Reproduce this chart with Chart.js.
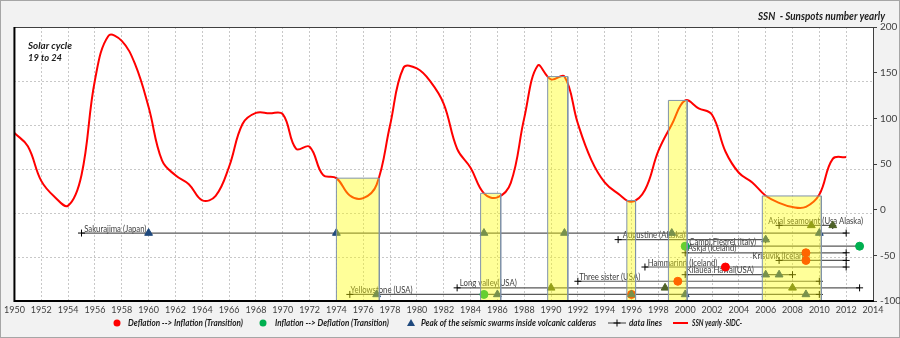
<!DOCTYPE html>
<html lang="en">
<head>
<meta charset="UTF-8">
<title>SSN - Sunspots number yearly</title>
<script src="https://cdn.jsdelivr.net/npm/chart.js"></script>
<style>
    html, body { margin: 0; padding: 0; background: #f2f2f2; }
    #wrap { width: 900px; height: 338px; }
</style>
</head>
<body>
<div id="wrap"><canvas id="ssnChart" width="900" height="338"></canvas></div>
<script>
// yearly sunspot number (SIDC)
const years = [1950, 1951, 1952, 1953, 1954, 1955, 1956, 1957, 1958, 1959,
    1960, 1961, 1962, 1963, 1964, 1965, 1966, 1967, 1968, 1969,
    1970, 1971, 1972, 1973, 1974, 1975, 1976, 1977, 1978, 1979,
    1980, 1981, 1982, 1983, 1984, 1985, 1986, 1987, 1988, 1989,
    1990, 1991, 1992, 1993, 1994, 1995, 1996, 1997, 1998, 1999,
    2000, 2001, 2002, 2003, 2004, 2005, 2006, 2007, 2008, 2009,
    2010, 2011, 2012];
const ssnYearly = [83.9, 69.4, 31.5, 13.9, 4.4, 38.0, 141.7, 190.2, 184.8, 159.0,
    112.3, 53.9, 37.6, 27.9, 10.2, 15.1, 47.0, 93.8, 105.9, 105.5,
    104.5, 66.6, 68.9, 38.0, 34.5, 15.5, 12.6, 27.5, 92.5, 155.4,
    154.6, 140.4, 115.9, 66.6, 45.9, 17.9, 13.4, 29.4, 100.2, 157.6,
    142.6, 145.7, 94.3, 54.6, 29.9, 17.5, 8.6, 21.5, 64.3, 93.3,
    119.6, 111.0, 104.0, 63.7, 40.4, 29.8, 15.2, 7.5, 2.9, 3.1,
    16.5, 55.7, 57.6];

// solar minimum boxes (years, SSN height)
const boxStart = [1974, 1984.75, 1989.75, 1995.65, 1998.75, 2005.75];
const boxEnd = [1977.2, 1986.25, 1991.25, 1996.3, 2000.15, 2010.15];
const boxTop = [34.5, 17.9, 145.7, 10, 119.6, 15];

// volcano data lines (left, hidden axis)
const volcanoNames = ['Axial seamount (Usa Alaska)', 'Sakurajima (Japan)', 'Augustine (Alaska)',
    'Campi Flegrei (Italy)', 'Askja (Iceland)', 'Krisuvik (Iceland)', 'Hammarinn (Iceland)',
    'Kilauea Hawai(USA)', 'Three sister (USA)', 'Long valley(USA)', 'Yellowstone (USA)'];
const volcanoLevel = [-65.5, -69, -72, -75, -78, -81.5, -84.5, -88, -91, -94, -97];
const volcanoFrom = [2007, 1955, 1995, 2000, 2000, 2007, 1997, 2000, 1992, 1983, 1975];
const volcanoTo = [2011, 2012, 2006, 2013, 2012, 2012, 2012, 2008, 2010, 2013, 2010];
const labelYear = [2006.2, 1955.2, 1995.35, 2000.3, 2000.2, 2005.0, 1997.2, 2000.1, 1992.1, 1983.2, 1975.05];

// deflation --> inflation
const defInfYear = [1996, 1999.45, 2003, 2009, 2009];
const defInfLevel = [-97, -91, -84.5, -78, -81.5];
// inflation --> deflation
const infDefYear = [1985, 2000, 2013];
const infDefLevel = [-97, -75, -75];
// peaks of seismic swarms
const swarmYear = [1960, 1974, 1985, 1991, 1999, 2010, 2006, 2006, 2007, 1977, 1986, 1996, 2000, 2009];
const swarmLevel = [-69, -69, -69, -69, -69, -69, -72, -88, -88, -97, -97, -97, -97, -97];
const swarm2Year = [1990, 1998.5, 2008, 2009.4, 2011];
const swarm2Level = [-94, -94, -94, -65.5, -65.5];

const pts = (xs, ys) => xs.map((x, i) => ({ x: x, y: ys[i] }));

const datasets = [];

boxStart.forEach((x0, i) => {
    datasets.push({
        label: 'box' + i,
        data: [{ x: x0, y: -100 }, { x: x0, y: boxTop[i] }, { x: boxEnd[i], y: boxTop[i] }, { x: boxEnd[i], y: -100 }],
        yAxisID: 'y2',
        borderColor: '#8093a8',
        borderWidth: 1,
        backgroundColor: 'rgba(255, 255, 0, 0.4)',
        fill: 'start',
        pointRadius: 0,
        tension: 0,
        order: 0
    });
});

datasets.push({
    label: 'swarm',
    data: pts(swarmYear, swarmLevel),
    yAxisID: 'y1',
    showLine: false,
    pointStyle: 'triangle',
    pointRadius: 4.5,
    pointBackgroundColor: '#1f497d',
    pointBorderColor: '#1f497d',
    order: 1
});
datasets.push({
    label: 'swarm2',
    data: pts(swarm2Year, swarm2Level),
    yAxisID: 'y1',
    showLine: false,
    pointStyle: 'triangle',
    pointRadius: 4.5,
    pointBackgroundColor: '#4f6228',
    pointBorderColor: '#4f6228',
    order: 1
});
datasets.push({
    label: 'defInf',
    data: pts(defInfYear, defInfLevel),
    yAxisID: 'y1',
    showLine: false,
    pointRadius: 4,
    pointBackgroundColor: '#ff0000',
    pointBorderColor: '#ff0000',
    order: 2
});
datasets.push({
    label: 'infDef',
    data: pts(infDefYear, infDefLevel),
    yAxisID: 'y1',
    showLine: false,
    pointRadius: 4,
    pointBackgroundColor: '#00b050',
    pointBorderColor: '#00b050',
    order: 2
});

volcanoNames.forEach((name, i) => {
    datasets.push({
        label: name,
        data: [{ x: volcanoFrom[i], y: volcanoLevel[i] }, { x: volcanoTo[i], y: volcanoLevel[i] }],
        yAxisID: 'y1',
        borderColor: '#595959',
        borderWidth: 1.2,
        pointStyle: 'cross',
        pointRadius: 3.5,
        pointBorderColor: '#000',
        pointBorderWidth: 1,
        tension: 0,
        order: 3
    });
});

datasets.push({
    label: 'SSN yearly -SIDC-',
    data: pts(years, ssnYearly),
    yAxisID: 'y2',
    borderColor: '#ff0000',
    borderWidth: 2,
    pointRadius: 0,
    tension: 0.4,
    order: 4
});

const FONT = 'Lato, "Liberation Sans", Arial, sans-serif';

// draw text squeezed a bit, like the narrow original font
function narrowText(ctx, text, x, y, squeeze) {
    const w = ctx.measureText(text).width;
    ctx.fillText(text, x, y, w * squeeze);
}

const decor = {
    id: 'decor',
    beforeDraw(chart) {
        const { ctx, chartArea: a } = chart;
        ctx.save();
        ctx.fillStyle = '#f2f2f2';
        ctx.fillRect(0, 0, chart.width, chart.height);
        ctx.strokeStyle = '#a6a6a6';
        ctx.lineWidth = 1;
        ctx.strokeRect(0.5, 0.5, chart.width - 1, chart.height - 1);
        ctx.fillStyle = '#ffffff';
        ctx.fillRect(a.left, a.top, a.right - a.left, a.bottom - a.top);
        ctx.restore();
    },
    beforeDatasetsDraw(chart) {
        const { ctx } = chart;
        const x = chart.scales.x, y = chart.scales.y1;
        ctx.save();
        ctx.font = '9px ' + FONT;
        ctx.fillStyle = '#404040';
        ctx.textBaseline = 'alphabetic';
        volcanoNames.forEach((name, i) => {
            narrowText(ctx, name, x.getPixelForValue(labelYear[i]), y.getPixelForValue(volcanoLevel[i]) - 1.5, 0.86);
        });
        ctx.restore();
    },
    afterDraw(chart) {
        const { ctx, chartArea: a } = chart;
        ctx.save();
        // plot frame
        ctx.strokeStyle = '#404040';
        ctx.lineWidth = 1;
        ctx.beginPath();
        ctx.moveTo(a.left, a.top + 0.5);
        ctx.lineTo(a.right + 0.5, a.top + 0.5);
        ctx.lineTo(a.right + 0.5, a.bottom);
        ctx.stroke();
        ctx.strokeStyle = '#000';
        ctx.lineWidth = 2;
        ctx.beginPath();
        ctx.moveTo(a.left, a.top);
        ctx.lineTo(a.left, a.bottom);
        ctx.lineTo(a.right + 1, a.bottom);
        ctx.stroke();

        // titles
        ctx.fillStyle = '#1a1a1a';
        ctx.textBaseline = 'middle';
        ctx.font = 'italic bold 11px ' + FONT;
        ctx.textAlign = 'right';
        ctx.fillText('SSN  - Sunspots number yearly', 885, 16, 127);
        ctx.textAlign = 'left';
        ctx.font = 'italic bold 10px ' + FONT;
        ctx.fillText('Solar cycle', 28, 46, 44);
        ctx.fillText('19 to 24', 28, 58, 34);

        // legend
        const ly = 323;
        ctx.font = 'italic bold 9.5px ' + FONT;
        ctx.fillStyle = '#ff0000';
        ctx.beginPath(); ctx.arc(117, ly, 3.5, 0, Math.PI * 2); ctx.fill();
        ctx.fillStyle = '#00b050';
        ctx.beginPath(); ctx.arc(263, ly, 3.5, 0, Math.PI * 2); ctx.fill();
        ctx.fillStyle = '#1f497d';
        ctx.beginPath(); ctx.moveTo(411, ly - 4); ctx.lineTo(415, ly + 3); ctx.lineTo(407, ly + 3); ctx.closePath(); ctx.fill();
        ctx.strokeStyle = '#595959'; ctx.lineWidth = 1.2;
        ctx.beginPath(); ctx.moveTo(608, ly); ctx.lineTo(626, ly); ctx.stroke();
        ctx.strokeStyle = '#000'; ctx.lineWidth = 1;
        ctx.beginPath(); ctx.moveTo(617, ly - 3.5); ctx.lineTo(617, ly + 3.5); ctx.moveTo(613.5, ly); ctx.lineTo(620.5, ly); ctx.stroke();
        ctx.strokeStyle = '#ff0000'; ctx.lineWidth = 2;
        ctx.beginPath(); ctx.moveTo(673, ly); ctx.lineTo(688, ly); ctx.stroke();
        ctx.fillStyle = '#1a1a1a';
        ctx.fillText('Deflation --> Inflation (Transition)', 128, ly, 115);
        ctx.fillText('Inflation --> Deflation (Transition)', 275, ly, 114);
        ctx.fillText('Peak of the seismic swarms inside volcanic calderas', 421, ly, 175);
        ctx.fillText('data lines', 629, ly, 33);
        ctx.fillText('SSN yearly -SIDC-', 692, ly, 50);
        ctx.restore();
    }
};

new Chart(document.getElementById('ssnChart'), {
    type: 'line',
    data: { datasets: datasets },
    options: {
        responsive: false,
        animation: false,
        devicePixelRatio: 1,
        layout: { padding: { left: 13, top: 27, right: 0, bottom: 0 } },
        plugins: {
            legend: { display: false },
            tooltip: { enabled: false },
            title: { display: false }
        },
        scales: {
            x: {
                type: 'linear',
                min: 1950,
                max: 2014,
                ticks: {
                    stepSize: 2,
                    color: '#404040',
                    font: { family: FONT, size: 9 },
                    padding: 4,
                    maxRotation: 0,
                    callback: v => String(v)
                },
                grid: { color: '#c8c8c8', drawTicks: false },
                border: { display: false, dash: [2, 2] },
                afterFit: s => { s.height = 37; }
            },
            y1: {
                type: 'linear',
                position: 'left',
                min: -100,
                max: 25,
                ticks: { stepSize: 20, display: false },
                grid: { color: '#c8c8c8', drawTicks: false },
                border: { display: false, dash: [2, 2] },
                afterFit: s => { s.width = 0; }
            },
            y2: {
                type: 'linear',
                position: 'right',
                min: -100,
                max: 200,
                ticks: {
                    stepSize: 50,
                    color: '#404040',
                    font: { family: FONT, size: 10 },
                    padding: 3
                },
                grid: { drawOnChartArea: false, drawTicks: true, tickLength: 4, color: '#404040' },
                border: { display: false },
                afterFit: s => { s.width = 27; }
            }
        }
    },
    plugins: [decor]
});
</script>
</body>
</html>
